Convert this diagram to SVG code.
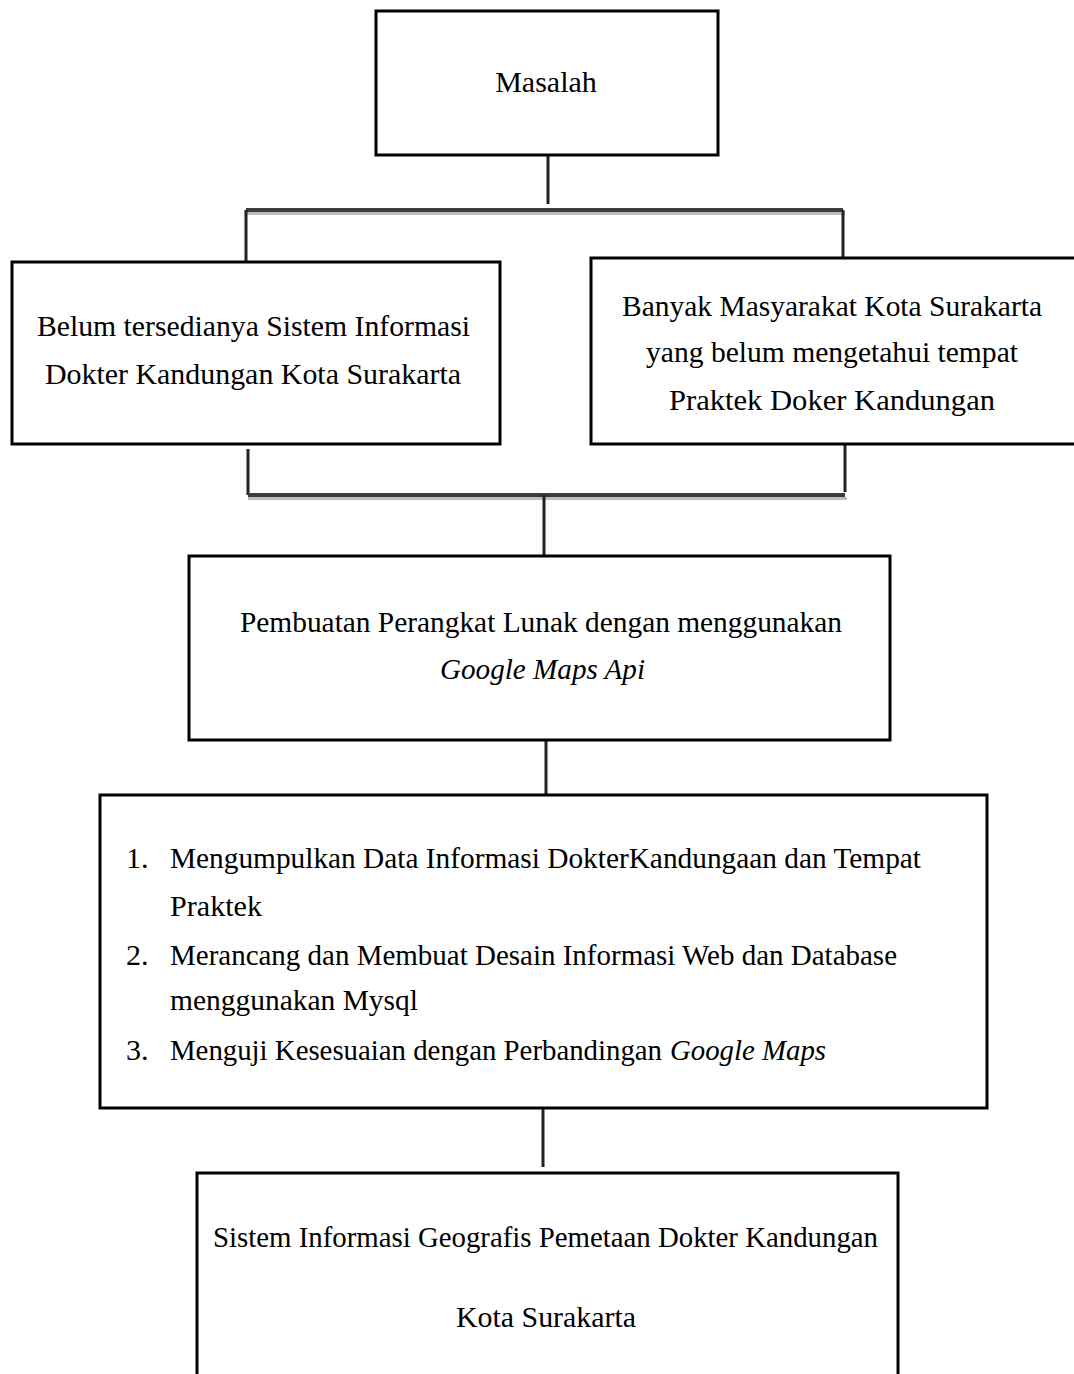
<svg xmlns="http://www.w3.org/2000/svg" width="1074" height="1374" viewBox="0 0 1074 1374">
<style>
.box{fill:#fff;stroke:#000;stroke-width:3}
.t{font-family:"Liberation Serif","Times New Roman",serif;font-size:30px;fill:#000}
.c{text-anchor:middle}
.i{font-style:italic}
.ln{stroke:#222;stroke-width:3;fill:none}
.hl{stroke:#3c3c3c;stroke-width:4;fill:none}
.sh{stroke:#bdbdbd;stroke-width:3;fill:none}
</style>
<rect width="1074" height="1374" fill="#fff"/>
<g id="connectors">
<line class="ln" x1="548" y1="156" x2="548" y2="204"/>
<line class="sh" x1="246" y1="213.5" x2="845" y2="213.5"/>
<line class="hl" x1="246" y1="210" x2="843" y2="210"/>
<line class="ln" x1="246" y1="210" x2="246" y2="262"/>
<line class="ln" x1="843" y1="210" x2="843" y2="258"/>
<line class="ln" x1="248" y1="449" x2="248" y2="495"/>
<line class="ln" x1="845" y1="445" x2="845" y2="492"/>
<line class="sh" x1="248" y1="498.5" x2="847" y2="498.5"/>
<line class="hl" x1="248" y1="495" x2="845" y2="495"/>
<line class="ln" x1="544" y1="495" x2="544" y2="556"/>
<line class="ln" x1="546" y1="740" x2="546" y2="794"/>
<line class="ln" x1="543" y1="1102" x2="543" y2="1167"/>
</g>
<g id="masalah">
<rect class="box" x="376" y="11" width="342" height="144"/>
<text class="t c" x="546" y="92">Masalah</text>
</g>
<g id="belum">
<rect class="box" x="12" y="262" width="488" height="182"/>
<text class="t" x="37" y="336" textLength="433" lengthAdjust="spacingAndGlyphs">Belum tersedianya Sistem Informasi</text>
<text class="t" x="45" y="384" textLength="416" lengthAdjust="spacingAndGlyphs">Dokter  Kandungan Kota Surakarta</text>
</g>
<g id="banyak">
<rect class="box" x="591" y="258" width="490" height="186"/>
<text class="t" x="622" y="316" textLength="420" lengthAdjust="spacingAndGlyphs">Banyak Masyarakat Kota Surakarta</text>
<text class="t" x="646" y="362" textLength="372" lengthAdjust="spacingAndGlyphs">yang belum mengetahui tempat</text>
<text class="t" x="669" y="410" textLength="326" lengthAdjust="spacingAndGlyphs">Praktek Doker Kandungan</text>
</g>
<g id="pembuatan">
<rect class="box" x="189" y="556" width="701" height="184"/>
<text class="t" x="240" y="632" textLength="602" lengthAdjust="spacingAndGlyphs">Pembuatan Perangkat Lunak dengan menggunakan</text>
<text class="t i" x="440" y="679" textLength="205" lengthAdjust="spacingAndGlyphs">Google Maps Api</text>
</g>
<g id="langkah">
<rect class="box" x="100" y="795" width="887" height="313"/>
<text class="t" x="126" y="868">1.</text>
<text class="t" x="170" y="868" textLength="751" lengthAdjust="spacingAndGlyphs">Mengumpulkan Data Informasi DokterKandungaan dan Tempat</text>
<text class="t" x="170" y="916" textLength="92" lengthAdjust="spacingAndGlyphs">Praktek</text>
<text class="t" x="126" y="965">2.</text>
<text class="t" x="170" y="965" textLength="727" lengthAdjust="spacingAndGlyphs">Merancang dan Membuat Desain Informasi Web dan Database</text>
<text class="t" x="170" y="1010" textLength="248" lengthAdjust="spacingAndGlyphs">menggunakan Mysql</text>
<text class="t" x="126" y="1060">3.</text>
<text class="t" x="170" y="1060" textLength="492" lengthAdjust="spacingAndGlyphs">Menguji Kesesuaian dengan Perbandingan</text>
<text class="t i" x="670" y="1060" textLength="156" lengthAdjust="spacingAndGlyphs">Google Maps</text>
</g>
<g id="sistem">
<rect class="box" x="197" y="1173" width="701" height="220"/>
<text class="t" x="213" y="1247" textLength="665" lengthAdjust="spacingAndGlyphs">Sistem Informasi Geografis Pemetaan Dokter Kandungan</text>
<text class="t" x="456" y="1327" textLength="180" lengthAdjust="spacingAndGlyphs">Kota Surakarta</text>
</g>
</svg>
